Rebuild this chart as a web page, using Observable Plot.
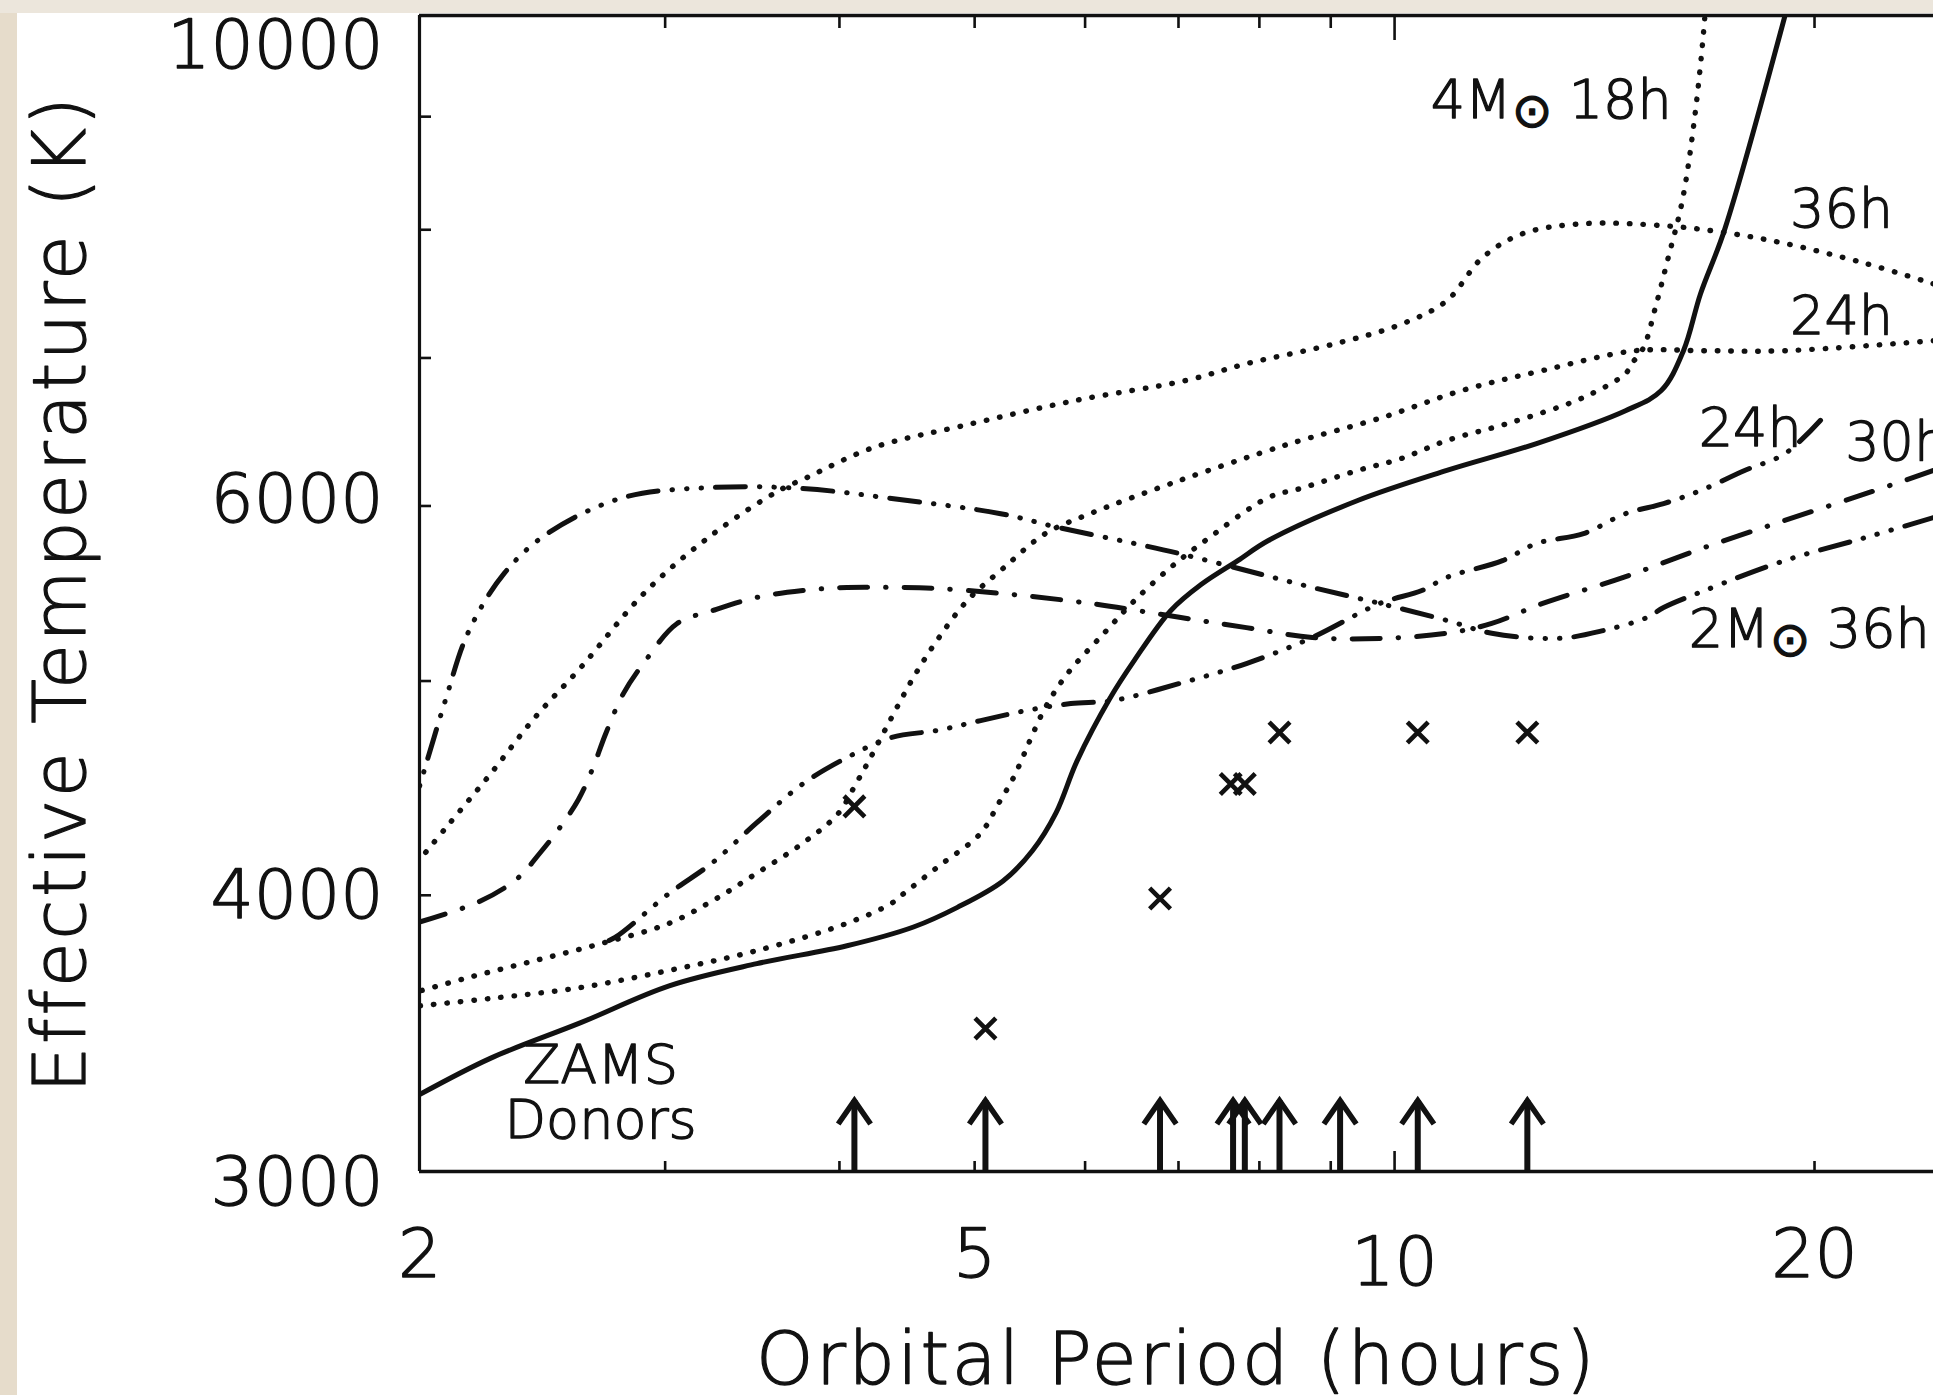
<!DOCTYPE html>
<html><head><meta charset="utf-8">
<script src="https://cdn.jsdelivr.net/npm/d3@7"></script>
<script src="https://cdn.jsdelivr.net/npm/@observablehq/plot@0.6"></script>
<style>
html,body{margin:0;padding:0;}
body{width:1933px;height:1395px;position:relative;overflow:hidden;background:#e6dccb;}
#topband{position:absolute;left:0;top:0;width:1933px;height:13px;background:#ece6dc;}
#chart{position:absolute;left:17px;top:13px;width:1916px;height:1382px;background:#fff;}
</style></head><body>
<div id="topband"></div>
<div id="chart"></div>
<script>
// ---------------- data (orbital period in hours, effective temperature in K) ----------------
const zamsP = [2.0, 2.25, 2.61, 3.02, 3.49, 4.05, 4.52, 4.86, 5.24, 5.50, 5.72, 5.92, 6.25, 6.51, 6.91, 7.27, 7.72, 8.12, 9.41, 10.90, 12.64, 14.64, 15.53, 16.11, 16.57, 17.24, 19.05];
const zamsT = [3250, 3376, 3503, 3640, 3725, 3795, 3870, 3950, 4060, 4190, 4360, 4600, 4910, 5110, 5380, 5530, 5668, 5788, 6034, 6226, 6403, 6626, 6766, 7053, 7484, 7999, 10000];

// 4 Msun donors (dotted)
const m4h36P = [24.34, 21.76, 19.04, 17.24, 15.59, 13.66, 12.35, 11.56, 10.90, 10.13, 9.07, 7.83, 7.09, 5.90, 4.91, 4.23, 3.79, 3.62, 3.25, 2.91, 2.61, 2.42, 2.25, 2.09, 2.00];
const m4h36T = [7562, 7724, 7887, 7977, 8034, 8051, 7967, 7771, 7430, 7254, 7105, 6958, 6838, 6696, 6524, 6376, 6180, 6097, 5830, 5494, 5071, 4814, 4541, 4293, 4150];
const m4h24P = [24.34, 19.04, 16.68, 14.88, 12.77, 11.17, 9.79, 8.56, 8.12, 7.01, 6.05, 5.62, 5.24, 4.94, 4.70, 4.52, 4.36, 4.20, 4.11, 3.99, 3.765, 3.49, 3.25, 3.02, 2.70, 2.42, 2.17, 2.00];
const m4h24T = [7127, 7053, 7053, 7053, 6909, 6766, 6578, 6423, 6357, 6161, 5952, 5830, 5622, 5437, 5217, 5019, 4814, 4603, 4492, 4354, 4223, 4093, 3980, 3885, 3804, 3737, 3672, 3620];
const m4h18P = [16.75, 16.68, 16.41, 16.08, 15.69, 15.38, 15.08, 14.79, 14.64, 13.66, 12.11, 10.90, 10.11, 9.41, 8.56, 8.12, 7.27, 6.91, 6.51, 6.19, 5.83, 5.62, 5.49, 5.44, 5.33, 5.20, 5.05, 4.70, 4.45, 4.36, 4.05, 3.49, 3.02, 2.605, 2.245, 2.00];
const m4h18T = [10400, 9949, 8992, 8247, 7747, 7377, 7075, 6958, 6887, 6718, 6544, 6423, 6304, 6226, 6110, 6053, 5770, 5628, 5437, 5255, 5040, 4865, 4715, 4652, 4520, 4400, 4267, 4118, 4008, 3967, 3885, 3776, 3699, 3633, 3592, 3565];

// 2 Msun donors (dash-dot styles)
const m2h24P = [20.2, 19.04, 17.82, 16.57, 15.59, 14.64, 13.66, 12.64, 11.95, 10.90, 10.46, 9.76, 8.73, 7.83, 7.01, 6.28, 5.86, 5.44, 5.05, 4.70, 4.36, 4.05, 3.765, 3.49, 3.245, 3.02, 2.76, 2.70];
const m2h24T = [6560, 6335, 6226, 6097, 6015, 5952, 5830, 5770, 5668, 5570, 5494, 5421, 5232, 5092, 4987, 4899, 4884, 4848, 4798, 4749, 4715, 4617, 4492, 4314, 4139, 4008, 3827, 3804];
const m2h30P = [24.34, 21.76, 19.04, 16.68, 14.59, 12.77, 11.74, 10.90, 9.76, 8.73, 7.83, 7.01, 6.05, 5.22, 4.70, 4.36, 4.05, 3.765, 3.49, 3.245, 3.06, 2.904, 2.80, 2.72, 2.66, 2.60, 2.52, 2.44, 2.35, 2.21, 2.00];
const m2h30T = [6226, 6077, 5910, 5746, 5570, 5421, 5309, 5255, 5227, 5232, 5286, 5343, 5421, 5478, 5506, 5512, 5512, 5494, 5455, 5381, 5309, 5107, 4935, 4734, 4560, 4420, 4290, 4180, 4070, 3975, 3890];
const m2h36P = [24.34, 21.76, 19.04, 16.68, 15.59, 15.18, 14.12, 13.11, 11.74, 10.90, 9.76, 8.73, 7.83, 7.01, 6.51, 5.74, 5.22, 4.36, 3.765, 3.25, 2.80, 2.47, 2.30, 2.166, 2.087, 2.00];
const m2h36T = [5928, 5806, 5668, 5494, 5398, 5343, 5270, 5227, 5255, 5326, 5421, 5512, 5610, 5710, 5770, 5867, 5952, 6047, 6110, 6117, 6053, 5830, 5593, 5255, 4899, 4480];

// observed systems
const crossP = [4.10, 5.09, 6.79, 7.63, 7.81, 8.27, 10.39, 12.45];
const crossT = [4388, 3482, 3987, 4492, 4492, 4739, 4739, 4739];
const arrowP = [4.10, 5.09, 6.79, 7.66, 7.81, 8.27, 9.14, 10.39, 12.45];
const arrowTipT = 3230;
const arrowBaseT = 3000;

// axes
const xTicks = [2, 3, 4, 5, 6, 7, 8, 9, 20];
const xLongTicks = [10];
const xTickLabels = [2, 5, 10, 20];
const yTicks = [4000, 5000, 6000, 7000, 8000, 9000];
const yTickLabels = [3000, 4000, 6000, 10000];
const xDomain = [2, 24.34];
const yDomain = [3000, 10000];
const xTitle = "Orbital Period (hours)";
const yTitle = "Effective Temperature (K)";

// annotations
const noteText = ["4M\u2299 18h", "36h", "24h", "24h", "30h", "2M\u2299 36h", "ZAMS\nDonors"];
const noteP = [15.80, 19.21, 19.21, 16.52, 21.04, 16.25, 2.697];
const noteT = [8983, 8020, 7180, 6390, 6292, 5178, 3105];
const noteAnchor = ["end", "start", "start", "start", "start", "start", "middle"];

// ---------------- styles ----------------
const INK = "#111";
const FONT = "DejaVu Sans";
const WEIGHT = 200;
const TSTROKE = 1.3;
const DOT = "0.5 13";
const DASHDOT = "28 18 0.5 18";
const DASH3DOT = "30 14 0.5 14 0.5 14 0.5 14";
const textStyle = {fontFamily: FONT, fontWeight: WEIGHT, fill: INK, stroke: INK, strokeWidth: TSTROKE};

const tracks = [
  {P: zamsP, T: zamsT, dash: null, w: 5},
  {P: m4h36P, T: m4h36T, dash: DOT, w: 5.4},
  {P: m4h24P, T: m4h24T, dash: DOT, w: 5.4},
  {P: m4h18P, T: m4h18T, dash: DOT, w: 5.4},
  {P: m2h24P, T: m2h24T, dash: DASH3DOT, w: 5},
  {P: m2h30P, T: m2h30T, dash: DASHDOT, w: 5},
  {P: m2h36P, T: m2h36T, dash: DASH3DOT, w: 5}
];

const chevron = {
  draw(ctx, size) {
    const r = Math.sqrt(size / Math.PI);
    ctx.moveTo(-0.9 * r, 1.3 * r);
    ctx.lineTo(0, 0);
    ctx.lineTo(0.9 * r, 1.3 * r);
  }
};

const notes = noteText.map((t, i) => ({t, P: noteP[i], T: noteT[i], a: noteAnchor[i]}));
const crosses = crossP.map((p, i) => ({P: p, T: crossT[i]}));

const marks = [];
for (const tr of tracks) {
  const rows = tr.P.map((p, i) => ({P: p, T: tr.T[i]}));
  marks.push(Plot.line(rows, {x: "P", y: "T", curve: "catmull-rom", stroke: INK, strokeWidth: tr.w,
    strokeDasharray: tr.dash, strokeLinecap: "round", strokeLinejoin: "round", clip: true}));
}
// crosses
marks.push(Plot.dot(crosses, {x: "P", y: "T", symbol: "times", r: 9.5, stroke: INK, strokeWidth: 4.6}));
// arrows (shaft + head)
marks.push(Plot.ruleX(arrowP, {x: d => d, y1: () => arrowBaseT, y2: () => arrowTipT, stroke: INK, strokeWidth: 6}));
marks.push(Plot.dot(arrowP, {x: d => d, y: () => arrowTipT, symbol: chevron, r: 18, fill: "none", stroke: INK, strokeWidth: 5.5, strokeLinejoin: "miter"}));

// frame: bottom, top, left
marks.push(Plot.ruleY(yDomain, {y: d => d, stroke: INK, strokeWidth: 3.6}));
marks.push(Plot.ruleX([xDomain[0]], {x: d => d, stroke: INK, strokeWidth: 3.2}));
// inward ticks
marks.push(Plot.ruleX(xTicks, {x: d => d, y1: () => yDomain[0], y2: () => yDomain[0], insetTop: -10, stroke: INK, strokeWidth: 2.6}));
marks.push(Plot.ruleX(xLongTicks, {x: d => d, y1: () => yDomain[0], y2: () => yDomain[0], insetTop: -20, stroke: INK, strokeWidth: 2.6}));
marks.push(Plot.ruleX(xTicks, {x: d => d, y1: () => yDomain[1], y2: () => yDomain[1], insetBottom: -13, stroke: INK, strokeWidth: 2.6}));
marks.push(Plot.ruleX(xLongTicks, {x: d => d, y1: () => yDomain[1], y2: () => yDomain[1], insetBottom: -25, stroke: INK, strokeWidth: 2.6}));
marks.push(Plot.ruleY(yTicks, {y: d => d, x1: () => xDomain[0], x2: () => xDomain[0], insetRight: -12, stroke: INK, strokeWidth: 2.6}));

// tick labels
const xDy = {2: 84, 5: 84, 10: 92, 20: 84};
for (const v of xTickLabels) {
  marks.push(Plot.text([v], {x: d => d, y: () => yDomain[0], text: d => String(d), dy: xDy[v], lineAnchor: "middle",
    fontSize: 68, ...textStyle}));
}
const yDy = {3000: 12, 4000: 1, 6000: -6, 10000: 31};
for (const v of yTickLabels) {
  marks.push(Plot.text([v], {x: () => xDomain[0], y: d => d, text: d => String(d), dx: -36, dy: yDy[v],
    textAnchor: "end", lineAnchor: "middle", fontSize: 68, ...textStyle}));
}
// titles
marks.push(Plot.text([xTitle], {frameAnchor: "bottom", text: d => d, dy: 212, textAnchor: "middle", lineAnchor: "bottom",
  fontSize: 73, ...textStyle}));
marks.push(Plot.text([yTitle], {frameAnchor: "left", text: d => d, rotate: -90, dx: -335, textAnchor: "middle", lineAnchor: "bottom",
  fontSize: 73, ...textStyle}));
// annotations
for (const a of ["start", "middle", "end"]) {
  marks.push(Plot.text(notes.filter(n => n.a === a), {x: "P", y: "T", text: "t", textAnchor: a, lineAnchor: "bottom",
    lineHeight: 1.02, fontSize: 54, ...textStyle}));
}

const svg = Plot.plot({
  width: 1916, height: 1382,
  marginLeft: 402, marginRight: 0, marginTop: 2, marginBottom: 224,
  x: {type: "log", domain: xDomain, axis: null},
  y: {type: "log", domain: yDomain, axis: null},
  style: {background: "#fff", fontFamily: FONT, color: INK, overflow: "hidden"},
  marks
});
document.getElementById("chart").append(svg);

// post-process: letter spacing for titles, small lowered solar symbol
const NS = "http://www.w3.org/2000/svg";
svg.querySelectorAll("text").forEach(t => {
  const s = t.textContent;
  if (s === xTitle || s === yTitle) t.setAttribute("letter-spacing", "2.6");
  if (s.includes("\u2299") && !t.querySelector("tspan")) {
    const [a, b] = s.split("\u2299");
    t.textContent = "";
    t.appendChild(document.createTextNode(a));
    const sym = document.createElementNS(NS, "tspan");
    sym.setAttribute("font-size", "48");
    sym.setAttribute("dy", "9");
    sym.textContent = "\u2299";
    t.appendChild(sym);
    const rest = document.createElementNS(NS, "tspan");
    rest.setAttribute("dy", "-9");
    rest.textContent = b;
    t.appendChild(rest);
  }
});
</script></body></html>
